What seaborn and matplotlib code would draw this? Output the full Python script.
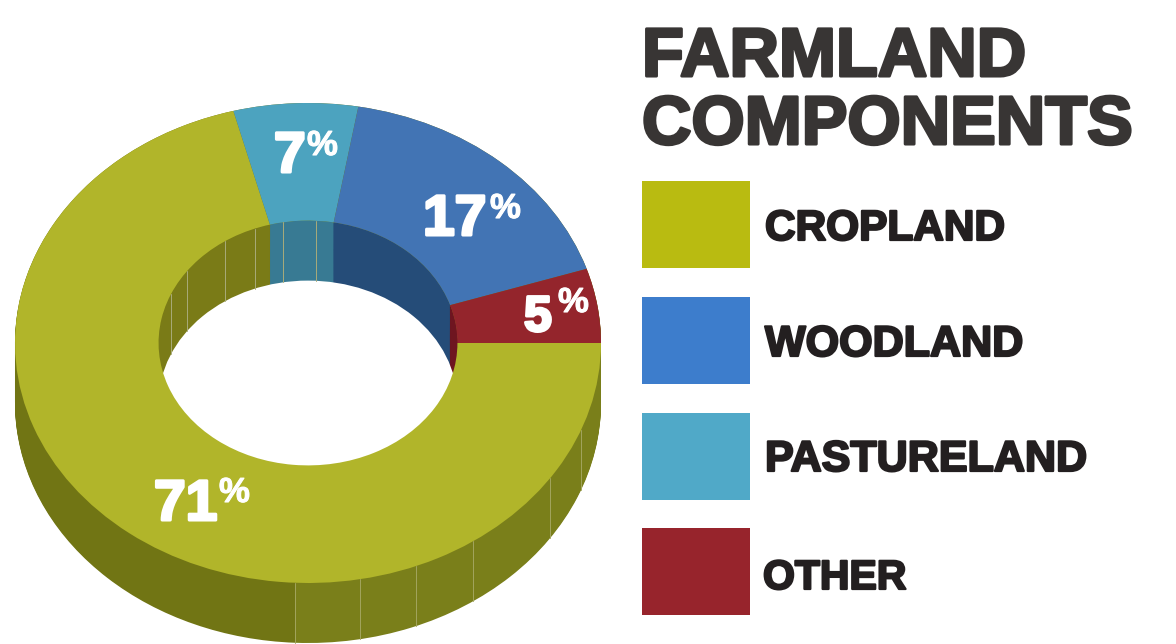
import numpy as np
import matplotlib
matplotlib.use('Agg')
import matplotlib.pyplot as plt
import matplotlib.patheffects as pe
from matplotlib.patches import Circle, Rectangle
import seaborn as sns

# slice sizes, in the order the pie goes round (clockwise from 3 o'clock)
pie_labels = ['CROPLAND', 'PASTURELAND', 'WOODLAND', 'OTHER']
pie_values = [70.9, 6.85, 17.25, 5.0]

# legend order
legend_labels = ['CROPLAND', 'WOODLAND', 'PASTURELAND', 'OTHER']

top_colors = {'CROPLAND': '#b1b52a', 'PASTURELAND': '#4ca3bf', 'WOODLAND': '#4274b4', 'OTHER': '#94252c'}
inner_colors = {'CROPLAND': '#7a7b17', 'PASTURELAND': '#387a93', 'WOODLAND': '#254c78', 'OTHER': '#6e1520'}
legend_colors = {'CROPLAND': '#b9bb11', 'WOODLAND': '#3d7dcc', 'PASTURELAND': '#50a9c8', 'OTHER': '#97242c'}

# outside wall of the cropland slice: lighter to the right of the front
wall_values = [25.7, 45.2, 6.85, 17.25, 5.0]
wall_colors = ['#7a7f1a', '#717514', '#717514', '#717514', '#717514']

# pale facet lines on the walls (pixel x)
outer_facets = [295, 360, 416, 473, 550, 581]
inner_facets = [171, 187, 225, 255, 283, 316]

sns.set_theme(style='white')
plt.rcParams['font.family'] = ['Liberation Sans', 'DejaVu Sans']

W, H = 1176, 644
cx, cy, rx, ry = 308, 343, 293, 240
depth_px = 60
inner = 0.51
depth = depth_px / ry
flat = dict(linewidth=0)

fig = plt.figure(figsize=(W / 100, H / 100), dpi=100, facecolor='white')

# pie axes, squashed so the unit circle lands on the ellipse
ax = fig.add_axes([(cx - rx) / W, 1 - (cy + ry + depth_px) / H, 2 * rx / W, (2 * ry + depth_px) / H])

# outside wall, deepest first
for d in np.linspace(depth, 0, 62):
    ax.pie(wall_values, colors=wall_colors, startangle=0, counterclock=False, center=(0, -d), radius=1,
           wedgeprops=flat)

# inside wall, shallowest first so each deeper rim stays on top
inner_cols = [inner_colors[k] for k in pie_labels]
for d in np.linspace(0, depth, 62):
    ax.pie(pie_values, colors=inner_cols, startangle=0, counterclock=False, center=(0, -d), radius=inner,
           wedgeprops=flat)
ax.add_patch(Circle((0, -depth), inner, facecolor='white', edgecolor='none'))

# top face
ax.pie(pie_values, colors=[top_colors[k] for k in pie_labels], startangle=0, counterclock=False,
       radius=1, wedgeprops=dict(width=1 - inner, linewidth=0))

ax.set_aspect('auto')
ax.set_xlim(-1, 1)
ax.set_ylim(-1 - depth, 1)

# overlay in pixel coordinates for the text, swatches and facet lines
ov = fig.add_axes([0, 0, 1, 1], facecolor='none')
ov.set_xlim(0, W)
ov.set_ylim(H, 0)
ov.axis('off')

for x in outer_facets:
    y0 = cy + ry * np.sqrt(1 - ((x - cx) / rx) ** 2)
    ov.plot([x, x], [y0, y0 + depth_px], color='#a3a55e', lw=0.7)
for x in inner_facets:
    y0 = cy - inner * ry * np.sqrt(1 - ((x - cx) / (inner * rx)) ** 2)
    ov.plot([x, x], [y0, y0 + depth_px], color='#a9ab7a', lw=0.7)


def heavy(x, y, s, size, color, stroke):
    return ov.text(x, y, s, fontsize=size, fontweight='bold', color=color, ha='left', va='baseline',
                   path_effects=[pe.withStroke(linewidth=stroke, foreground=color)])


# title
heavy(642, 76, 'FARMLAND', 49.3, '#383534', 2.2)
heavy(642, 144, 'COMPONENTS', 49.3, '#383534', 2.2)

# legend
swatch_y = [181, 297, 413, 528]
label_y = [240, 356, 471, 589]
label_x = [765, 765, 765, 763]
label_size = [30.5, 31, 31, 29.5]
for name, sy, ly, lx, ls in zip(legend_labels, swatch_y, label_y, label_x, label_size):
    ov.add_patch(Rectangle((642, sy), 108, 87, facecolor=legend_colors[name], edgecolor='none'))
    heavy(lx, ly, name, ls, '#231f20', 1.6)

# percentage labels
pct_text = ['71', '17', '7', '5']
pct_x = [154, 423, 274, 524]
pct_y = [520, 235, 172, 331]
sign_x = [219, 490, 307, 558]
sign_y = [502, 218, 155, 312]
num_size = [41, 41, 41, 36]
for t, x, y, sx, sy, ns in zip(pct_text, pct_x, pct_y, sign_x, sign_y, num_size):
    heavy(x, y, t, ns, 'white', 2.2)
    heavy(sx, sy, '%', 25, 'white', 0.8)

fig.savefig('out.png', dpi=100)
